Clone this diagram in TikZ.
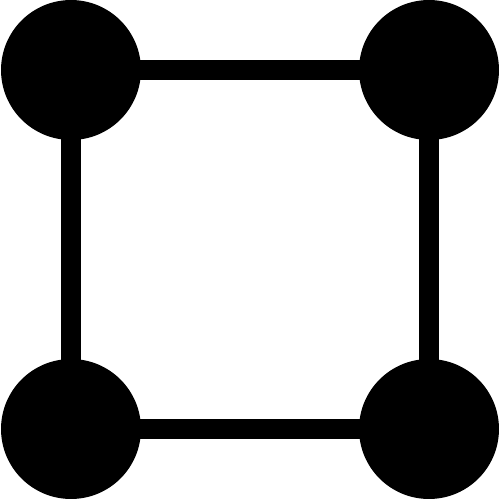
\documentclass[tikz,border=0pt]{standalone}
\begin{document}
\begin{tikzpicture}[x=0.02cm,y=-0.02cm,
  dot/.style={circle,fill=black,minimum size=2.8cm,inner sep=0pt},
  edge/.style={line width=0.4cm,black}]
\useasboundingbox (0,0) rectangle (500,500);
\node[dot] (tl) at (71,70) {};
\node[dot] (tr) at (429,70) {};
\node[dot] (bl) at (71,429) {};
\node[dot] (br) at (429,429) {};
\draw[edge] (tl.center) -- (tr.center) -- (br.center) -- (bl.center) -- cycle;
\end{tikzpicture}
\end{document}
